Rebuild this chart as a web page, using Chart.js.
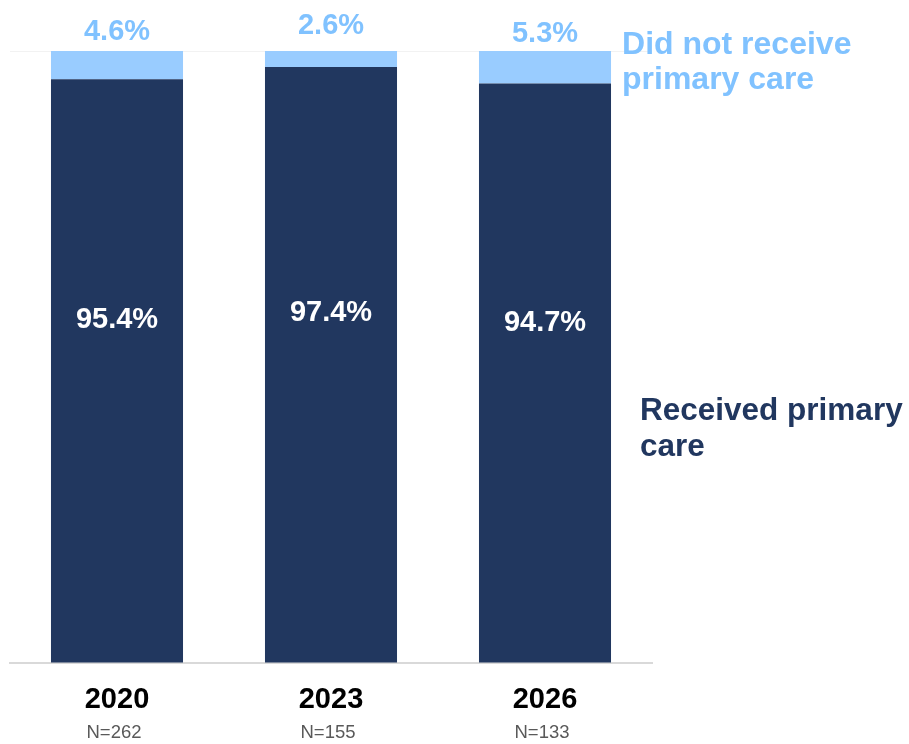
<!DOCTYPE html>
<html>
<head>
<meta charset="utf-8">
<script src="https://cdn.jsdelivr.net/npm/chart.js@4/dist/chart.umd.min.js"></script>
<style>
  body { margin: 0; background: #fff; }
  #wrap { width: 909px; height: 744px; position: relative; }
</style>
</head>
<body>
<div id="wrap"><canvas id="careChart"></canvas></div>
<script>
var years = ['2020', '2023', '2026'];
var sampleSizes = ['N=262', 'N=155', 'N=133'];
var received = [95.4, 97.4, 94.7];
var notReceived = [4.6, 2.6, 5.3];

var DARK = '#21375f';
var LIGHT = '#99ccff';
var LIGHT_TEXT = '#80c2ff';
var FONT = '"Liberation Sans", Arial, sans-serif';

// value labels, year labels and the series names on the right
var labelPlugin = {
    id: 'careLabels',
    afterDatasetsDraw: function (chart) {
        var ctx = chart.ctx;
        var y = chart.scales.y;
        var darkBars = chart.getDatasetMeta(0).data;
        var lightBars = chart.getDatasetMeta(1).data;
        var area = chart.chartArea;
        ctx.save();
        darkBars.forEach(function (bar, i) {
            ctx.textAlign = 'center';
            ctx.textBaseline = 'middle';
            ctx.font = 'bold 29px ' + FONT;
            ctx.fillStyle = '#ffffff';
            ctx.fillText(received[i].toFixed(1) + '%', bar.x, y.getPixelForValue(received[i] * 0.587));

            var light = lightBars[i];
            ctx.fillStyle = LIGHT_TEXT;
            ctx.fillText(notReceived[i].toFixed(1) + '%', bar.x, (light.y + light.base) / 2 - 33);

            ctx.textBaseline = 'alphabetic';
            ctx.fillStyle = '#000000';
            ctx.fillText(years[i], bar.x, area.bottom + 45);
            ctx.font = '18.5px ' + FONT;
            ctx.fillStyle = '#595959';
            ctx.fillText(sampleSizes[i], bar.x - 3, area.bottom + 75);
        });

        var last = darkBars[darkBars.length - 1];
        var lx = last.x + last.width / 2 + 11;
        ctx.textAlign = 'left';
        ctx.textBaseline = 'alphabetic';
        ctx.font = 'bold 32px ' + FONT;
        ctx.fillStyle = LIGHT_TEXT;
        ctx.fillText('Did not receive', lx, 54);
        ctx.fillText('primary care', lx, 89);
        ctx.font = 'bold 31.5px ' + FONT;
        ctx.fillStyle = DARK;
        ctx.fillText('Received primary', lx + 18, 420);
        ctx.fillText('care', lx + 18, 456);
        ctx.restore();
    }
};

new Chart(document.getElementById('careChart').getContext('2d'), {
    type: 'bar',
    data: {
        labels: years,
        datasets: [{
            label: 'Received primary care',
            data: received,
            backgroundColor: DARK,
            barPercentage: 1,
            categoryPercentage: 0.617
        }, {
            label: 'Did not receive primary care',
            data: notReceived,
            backgroundColor: LIGHT,
            barPercentage: 1,
            categoryPercentage: 0.617
        }]
    },
    options: {
        responsive: true,
        maintainAspectRatio: false,
        animation: false,
        layout: {
            padding: { left: 10, right: 257, top: 51, bottom: 73 }
        },
        plugins: {
            legend: { display: false },
            tooltip: { enabled: false }
        },
        scales: {
            x: {
                stacked: true,
                grid: { display: false },
                ticks: { display: false },
                border: { display: true, color: '#d9d9d9', width: 2 }
            },
            y: {
                stacked: true,
                min: 0,
                max: 100,
                ticks: { display: false },
                border: { display: false },
                grid: {
                    drawTicks: false,
                    color: function (c) { return c.tick.value === 100 ? '#f2f2f2' : 'rgba(0,0,0,0)'; }
                }
            }
        }
    },
    plugins: [labelPlugin]
});
</script>
</body>
</html>
